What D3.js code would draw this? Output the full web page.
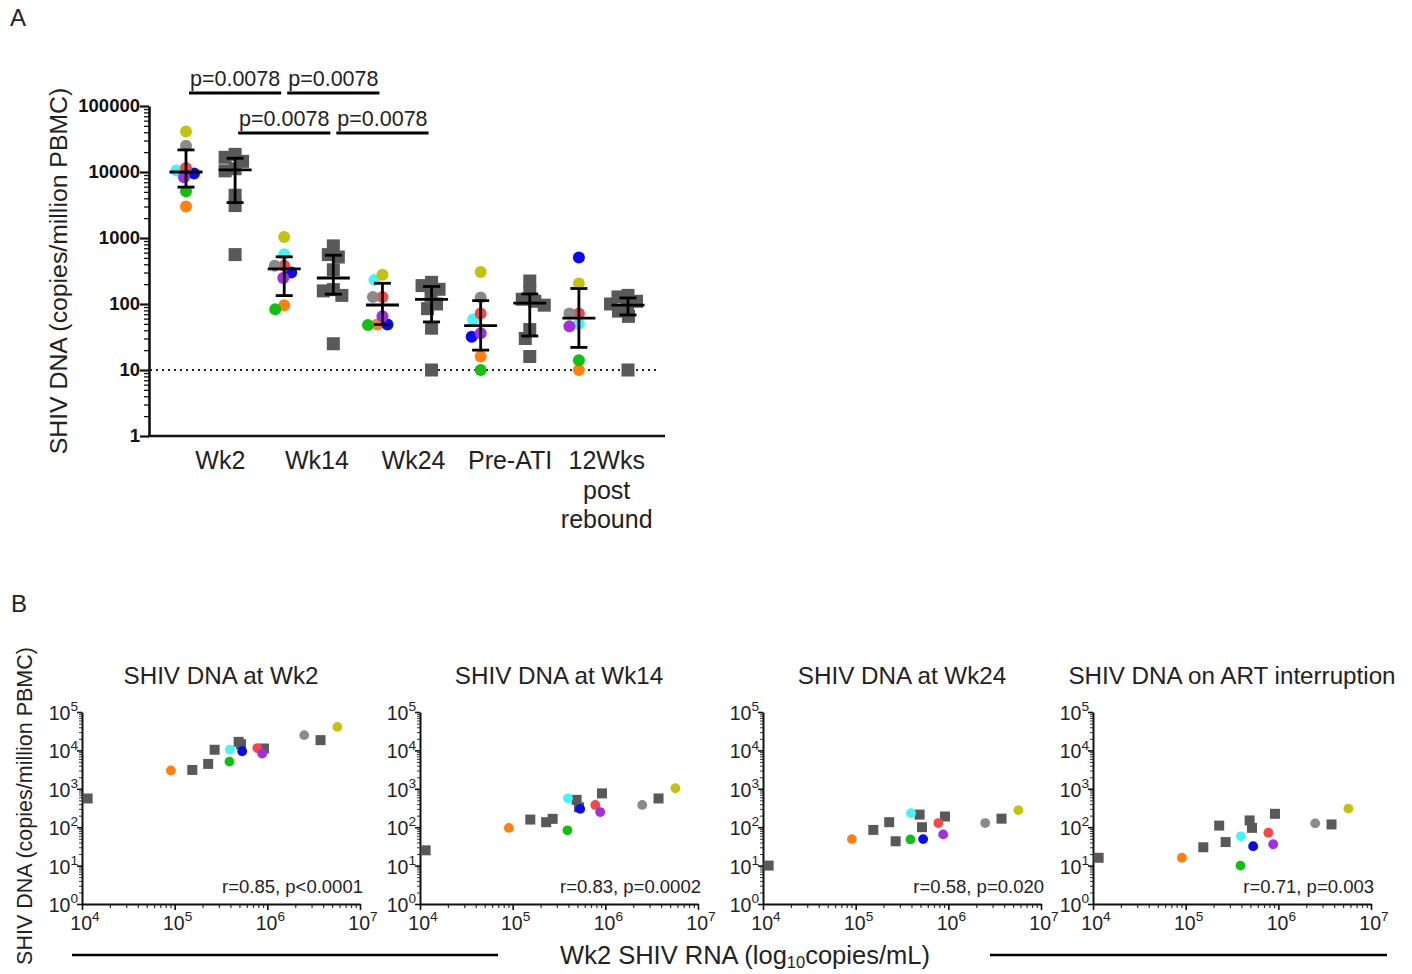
<!DOCTYPE html>
<html><head><meta charset="utf-8">
<script src="https://cdn.jsdelivr.net/npm/d3@7"></script>
<style>body{margin:0;background:#fff;} svg{display:block;font-family:Arial,"Liberation Sans",Helvetica,sans-serif;}</style>
</head><body><svg id="c" width="1412" height="974"></svg>
<script>
// ---------------- DATA ----------------
const timepoints = ['Wk2','Wk14','Wk24','Pre-ATI','12Wks post rebound'];
const timepointLines = [['Wk2'],['Wk14'],['Wk24'],['Pre-ATI'],['12Wks','post','rebound']];
// coloured-circle animals (order: orange, green, cyan, blue, red, purple, grey, olive)
const circleAnimals = ['orange','green','cyan','blue','red','purple','grey','olive'];
const circleRNA   = [9.1e4, 3.9e5, 3.95e5, 5.35e5, 7.8e5, 8.8e5, 2.5e6, 5.7e6];
const circleWk2   = [3000, 5100, 10500, 9500, 11500, 8300, 25000, 41000];
const circleWk14  = [96, 83, 565, 300, 380, 248, 380, 1035];
const circleWk24  = [49, 48, 232, 49, 128, 65, 128, 278];
const circlePreATI= [16, 10, 58, 32, 72, 36, 126, 305];
const circlePost  = [10, 14, 50, 505, 72, 46, 72, 205];
// grey-square animals
const squareRNA   = [1.15e4, 1.55e5, 2.3e5, 2.7e5, 4.9e5, 5.2e5, 9.2e5, 3.75e6];
const squareWk2   = [560, 3100, 4450, 10400, 16700, 14500, 11200, 18500];
const squareWk14  = [25, 158, 135, 165, 515, 330, 760, 560];
const squareWk24  = [10, 85, 135, 43, 213, 100, 190, 167];
const squarePreATI= [16, 30, 110, 41, 150, 96, 223, 118];
const squarePost  = [10, 65, 78, 92, 100, 110, 128, 135];

const yTicksA = [1, 10, 100, 1000, 10000, 100000];
const detectionLimit = 10;
const pLabels = ['p=0.0078','p=0.0078','p=0.0078','p=0.0078'];
const comparisons = [[0,1,'c',0],[1,2,'c',0],[0,1,'s',1],[1,2,'s',1]]; // [tp a, tp b, shape, row]

const scatterTitles = ['SHIV DNA at Wk2','SHIV DNA at Wk14','SHIV DNA at Wk24','SHIV DNA on ART interruption'];
const scatterCircleY = [circleWk2, circleWk14, circleWk24, circlePreATI];
const scatterSquareY = [squareWk2, squareWk14, squareWk24, squarePreATI];
const rLabels = ['r=0.85, p<0.0001','r=0.83, p=0.0002','r=0.58, p=0.020','r=0.71, p=0.003'];
const bXTicks = [1e4, 1e5, 1e6, 1e7];
const bYTicks = [1, 10, 100, 1000, 10000, 100000];

// ---------------- STYLE ----------------
const palette = {orange:'#ff7f11', green:'#12c012', cyan:'#45f5f5', blue:'#0a0aef', red:'#f54848',
                 purple:'#a12fe0', grey:'#8a8a8a', olive:'#c3c30f'};
const squareColor = '#595959';

const svg = d3.select('#c');

// ---------------- helpers ----------------
function quart(arr, p){ // Prism-style (n+1)p quantile
  const s = arr.slice().sort((a,b)=>a-b), n = s.length, pos = (n+1)*p;
  const lo = Math.floor(pos), f = pos - lo;
  if (lo < 1) return s[0];
  if (lo >= n) return s[n-1];
  return s[lo-1] + f*(s[lo]-s[lo-1]);
}
// simple beeswarm: smallest horizontal offset that keeps points minD apart
function swarm(ys, minD){
  const idx = ys.map((y,i)=>i).sort((a,b)=>ys[a]-ys[b]);
  const placed = [], off = new Array(ys.length).fill(0);
  for (const i of idx){
    for (let k=0;k<120;k++){
      const o = k===0 ? 0 : (k%2 ? -1 : 1)*Math.ceil(k/2)*0.5;
      if (placed.every(p=>Math.hypot(p.x-o, p.y-ys[i]) >= minD)){ off[i]=o; placed.push({x:o,y:ys[i]}); break; }
    }
  }
  return off;
}
function powLabel(sel, exp, x, y, anchor, size){
  const t = sel.append('text').attr('x',x).attr('y',y).attr('text-anchor',anchor)
    .attr('font-size',size).attr('fill','#222');
  t.append('tspan').text('10');
  t.append('tspan').attr('font-size',size*0.7).attr('dy',-size*0.45).text(exp);
  return t;
}

// ---------------- Panel labels ----------------
svg.append('text').attr('x',10).attr('y',26).attr('font-size',24).attr('fill','#222').text('A');
svg.append('text').attr('x',11).attr('y',612).attr('font-size',24).attr('fill','#222').text('B');

// ---------------- PANEL A ----------------
const yA = d3.scaleLog().domain([1,1e5]).range([436,106]);
const groupKeys = timepoints.flatMap(t=>[t+'|c', t+'|s']);
const xA = d3.scalePoint().domain(groupKeys).range([186,628]);
const xCat = d3.scaleBand().domain(timepoints).range([172,655]);
const gA = svg.append('g');

// y axis major + minor
const minorA = yA.ticks().filter(v=>!yTicksA.includes(v));
gA.append('g').attr('transform','translate(149,0)')
  .call(d3.axisLeft(yA).tickValues(minorA).tickSize(5).tickFormat(''))
  .call(g=>{g.select('.domain').remove(); g.selectAll('line').attr('stroke','#111').attr('stroke-width',1.3);});
gA.append('g').attr('transform','translate(149,0)')
  .call(d3.axisLeft(yA).tickValues(yTicksA).tickSize(9).tickSizeOuter(0).tickFormat(d3.format('d')))
  .call(g=>{
    g.select('.domain').attr('stroke','#111').attr('stroke-width',2.6);
    g.selectAll('line').attr('stroke','#111').attr('stroke-width',2.2);
    g.selectAll('text').attr('font-size',18.5).attr('font-weight','bold').attr('fill','#111')
      .attr('font-family','Arial,"Liberation Sans",sans-serif').attr('x',-9);
  });
// x axis line
gA.append('line').attr('x1',148).attr('x2',665).attr('y1',yA(1)).attr('y2',yA(1))
  .attr('stroke','#111').attr('stroke-width',2.6);
// y title
gA.append('text').attr('transform',`translate(67,${(yA(1)+yA(1e5))/2})`+' rotate(-90)')
  .attr('text-anchor','middle').attr('font-size',24.8).attr('fill','#222')
  .text('SHIV DNA (copies/million PBMC)');
// category labels
timepoints.forEach((t,i)=>{
  const cx = xCat(t) + xCat.bandwidth()/2;
  timepointLines[i].forEach((ln,j)=>{
    gA.append('text').attr('x',cx).attr('y',469 + j*29.5).attr('text-anchor','middle')
      .attr('font-size',25).attr('fill','#222').text(ln);
  });
});
// detection limit
gA.append('line').attr('x1',150).attr('x2',660).attr('y1',yA(detectionLimit)).attr('y2',yA(detectionLimit))
  .attr('stroke','#222').attr('stroke-width',2).attr('stroke-dasharray','2,4');

const circleSets = [circleWk2, circleWk14, circleWk24, circlePreATI, circlePost];
const squareSets = [squareWk2, squareWk14, squareWk24, squarePreATI, squarePost];

function drawStats(vals, cx){
  const q1 = quart(vals,0.25), med = quart(vals,0.5), q3 = quart(vals,0.75);
  const g = gA.append('g').attr('stroke','#000').attr('stroke-width',2.8);
  g.append('line').attr('x1',cx).attr('x2',cx).attr('y1',yA(q1)).attr('y2',yA(q3));
  g.append('line').attr('x1',cx-8.5).attr('x2',cx+8.5).attr('y1',yA(q1)).attr('y2',yA(q1));
  g.append('line').attr('x1',cx-8.5).attr('x2',cx+8.5).attr('y1',yA(q3)).attr('y2',yA(q3));
  g.append('line').attr('x1',cx-16.5).attr('x2',cx+16.5).attr('y1',yA(med)).attr('y2',yA(med));
}

timepoints.forEach((t,i)=>{
  // squares
  const sx = xA(t+'|s'), sv = squareSets[i];
  const sOff = swarm(sv.map(v=>yA(v)), 10);
  gA.append('g').selectAll('rect').data(sv).join('rect')
    .attr('x',(d,k)=>sx+sOff[k]-6.5).attr('y',d=>yA(d)-6.5).attr('width',13).attr('height',13)
    .attr('fill',squareColor);
  drawStats(sv, sx);
  // circles
  const cx = xA(t+'|c'), cv = circleSets[i];
  const cOff = swarm(cv.map(v=>yA(v)), 9.5);
  gA.append('g').selectAll('circle').data(cv).join('circle')
    .attr('cx',(d,k)=>cx+cOff[k]).attr('cy',d=>yA(d)).attr('r',6)
    .attr('fill',(d,k)=>palette[circleAnimals[k]]);
  drawStats(cv, cx);
});

// significance bars
comparisons.forEach((c,i)=>{
  const [a,b,shape,row] = c;
  const x1 = xA(timepoints[a]+'|'+shape)+3, x2 = xA(timepoints[b]+'|'+shape)-3;
  const yb = row===0 ? 93 : 133;
  gA.append('line').attr('x1',x1).attr('x2',x2).attr('y1',yb).attr('y2',yb)
    .attr('stroke','#000').attr('stroke-width',3);
  gA.append('text').attr('x',(x1+x2)/2).attr('y',yb-7).attr('text-anchor','middle')
    .attr('font-size',21.5).attr('fill','#222').text(pLabels[i]);
});

// ---------------- PANEL B ----------------
const bLefts = [82, 420, 763, 1093];
const bW = 278, bTop = 712, bBot = 904;
bLefts.forEach((L,p)=>{
  const x = d3.scaleLog().domain([1e4,1e7]).range([L, L+bW]);
  const y = d3.scaleLog().domain([1,1e5]).range([bBot, bTop]);
  const g = svg.append('g');
  // minor ticks
  g.append('g').attr('transform',`translate(${L},0)`)
    .call(d3.axisLeft(y).tickValues(y.ticks().filter(v=>!bYTicks.includes(v))).tickSize(3).tickFormat(''))
    .call(s=>{s.select('.domain').remove(); s.selectAll('line').attr('stroke','#333').attr('stroke-width',1);});
  g.append('g').attr('transform',`translate(0,${bBot})`)
    .call(d3.axisBottom(x).tickValues(x.ticks().filter(v=>!bXTicks.includes(v))).tickSize(4).tickFormat(''))
    .call(s=>{s.select('.domain').remove(); s.selectAll('line').attr('stroke','#333').attr('stroke-width',1.2);});
  // major ticks + domain
  g.append('g').attr('transform',`translate(${L},0)`)
    .call(d3.axisLeft(y).tickValues(bYTicks).tickSize(5).tickSizeOuter(0).tickFormat(''))
    .call(s=>{s.select('.domain').attr('stroke','#111').attr('stroke-width',2); s.selectAll('line').attr('stroke','#111').attr('stroke-width',1.6);});
  g.append('g').attr('transform',`translate(0,${bBot})`)
    .call(d3.axisBottom(x).tickValues(bXTicks).tickSize(6).tickSizeOuter(0).tickFormat(''))
    .call(s=>{s.select('.domain').attr('stroke','#111').attr('stroke-width',2); s.selectAll('line').attr('stroke','#111').attr('stroke-width',1.6);});
  // tick labels
  bYTicks.forEach(v=>powLabel(g, Math.round(Math.log10(v)), L-4, y(v)+8, 'end', 19.5));
  bXTicks.forEach(v=>powLabel(g, Math.round(Math.log10(v)), x(v)+3, bBot+26, 'middle', 19.5));
  // title
  g.append('text').attr('x',L+bW/2).attr('y',684).attr('text-anchor','middle')
    .attr('font-size',24.2).attr('fill','#222').text(scatterTitles[p]);
  // points
  g.append('g').selectAll('rect').data(scatterSquareY[p]).join('rect')
    .attr('x',(d,k)=>x(squareRNA[k])-5).attr('y',d=>y(d)-5).attr('width',10).attr('height',10)
    .attr('fill',squareColor);
  g.append('g').selectAll('circle').data(scatterCircleY[p]).join('circle')
    .attr('cx',(d,k)=>x(circleRNA[k])).attr('cy',d=>y(d)).attr('r',4.9)
    .attr('fill',(d,k)=>palette[circleAnimals[k]]);
  // r label
  g.append('text').attr('x',L+bW+3).attr('y',bBot-11).attr('text-anchor','end')
    .attr('font-size',18.5).attr('fill','#222').text(rLabels[p]);
});
// shared titles
svg.append('text').attr('transform','translate(32,806) rotate(-90)').attr('text-anchor','middle')
  .attr('font-size',21.5).attr('fill','#222').text('SHIV DNA (copies/million PBMC)');
const xt = svg.append('text').attr('x',745).attr('y',964).attr('text-anchor','middle')
  .attr('font-size',25.5).attr('fill','#222');
xt.append('tspan').text('Wk2 SHIV RNA (log');
xt.append('tspan').attr('font-size',16.5).attr('dy',4).text('10');
xt.append('tspan').attr('dy',-4).text('copies/mL)');
svg.append('line').attr('x1',72).attr('x2',498).attr('y1',955).attr('y2',955).attr('stroke','#000').attr('stroke-width',2.6);
svg.append('line').attr('x1',990).attr('x2',1387).attr('y1',955).attr('y2',955).attr('stroke','#000').attr('stroke-width',2.6);
</script></body></html>
